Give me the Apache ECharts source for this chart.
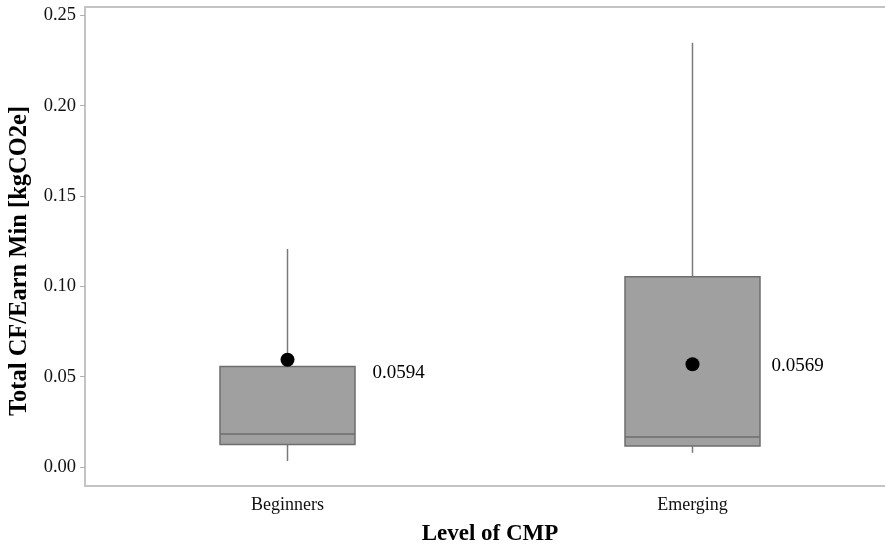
<!DOCTYPE html>
<html>
<head>
<meta charset="utf-8">
<script src="https://cdn.jsdelivr.net/npm/echarts@6/dist/echarts.min.js"></script>
<style>html,body{margin:0;padding:0;background:#fff}#c{width:885px;height:545px}</style>
</head>
<body>
<div id="c"></div>
<script>
var categories = ['Beginners', 'Emerging'];
var whiskerLow = [0.0033, 0.0079];
var q1 = [0.0124, 0.0116];
var median = [0.0183, 0.0166];
var q3 = [0.0557, 0.1053];
var whiskerHigh = [0.1207, 0.2348];
var means = [0.0594, 0.0569];
var yTicks = [0, 0.05, 0.10, 0.15, 0.20, 0.25];

var FONT = '"Liberation Serif", "Times New Roman", serif';
var labelOffsets = [[73, 13], [67, 1.5]];

var boxData = categories.map(function (c, i) {
  return [i, whiskerLow[i], q1[i], median[i], q3[i], whiskerHigh[i]];
});
var meanData = categories.map(function (c, i) {
  return { value: [i, means[i]], label: { offset: labelOffsets[i] } };
});

var chart = echarts.init(document.getElementById('c'), null, { renderer: 'canvas' });
chart.setOption({
  animation: false,
  backgroundColor: '#ffffff',
  grid: {
    left: 85, top: 7, width: 810, height: 479,
    outerBoundsMode: 'none', containLabel: false,
    show: true, borderColor: '#c4c4c4', borderWidth: 2, backgroundColor: 'transparent'
  },
  xAxis: {
    type: 'category',
    data: categories,
    boundaryGap: true,
    axisLine: { onZero: false, lineStyle: { color: '#c4c4c4', width: 2 } },
    axisTick: { alignWithLabel: true, length: 5, lineStyle: { color: '#b0b0b0' } },
    axisLabel: { color: '#111', fontFamily: FONT, fontSize: 18, margin: 10 },
    name: 'Level of CMP',
    nameLocation: 'middle',
    nameGap: 37,
    nameTextStyle: { color: '#000', fontFamily: FONT, fontSize: 23, fontWeight: 'bold' },
    splitLine: { show: false }
  },
  yAxis: {
    type: 'value',
    min: -0.0105,
    max: 0.2546,
    axisLine: { show: true, onZero: false, lineStyle: { color: '#c4c4c4', width: 2 } },
    axisTick: { show: true, length: 5, customValues: yTicks, lineStyle: { color: '#b0b0b0' } },
    axisLabel: {
      customValues: yTicks,
      color: '#111', fontFamily: FONT, fontSize: 18.5, margin: 9,
      formatter: function (v) { return v.toFixed(2); }
    },
    splitLine: { show: false }
  },
  graphic: [{
    type: 'text',
    x: 20, y: 261,
    rotation: Math.PI / 2,
    style: {
      text: 'Total CF/Earn Min [kgCO2e]',
      fill: '#000',
      font: 'bold 24.5px ' + FONT,
      align: 'center',
      verticalAlign: 'middle'
    }
  }],
  series: [
    {
      type: 'custom',
      data: boxData,
      encode: { x: 0, y: [1, 2, 3, 4, 5] },
      renderItem: function (params, api) {
        var x = api.value(0);
        var lo = api.coord([x, api.value(1)]);
        var b1 = api.coord([x, api.value(2)]);
        var md = api.coord([x, api.value(3)]);
        var b3 = api.coord([x, api.value(4)]);
        var hi = api.coord([x, api.value(5)]);
        var w = api.size([1, 0])[0] / 3;
        var cx = lo[0];
        return {
          type: 'group',
          children: [
            { type: 'line', shape: { x1: cx, y1: hi[1], x2: cx, y2: b3[1] }, style: { stroke: '#7a7a7a', lineWidth: 1.5 } },
            { type: 'line', shape: { x1: cx, y1: b1[1], x2: cx, y2: lo[1] }, style: { stroke: '#7a7a7a', lineWidth: 1.5 } },
            { type: 'rect', shape: { x: cx - w / 2, y: b3[1], width: w, height: b1[1] - b3[1] }, style: { fill: '#a0a0a0', stroke: '#6e6e6e', lineWidth: 1.5 } },
            { type: 'line', shape: { x1: cx - w / 2, y1: md[1], x2: cx + w / 2, y2: md[1] }, style: { stroke: '#6e6e6e', lineWidth: 1.5 } }
          ]
        };
      },
      z: 2
    },
    {
      type: 'scatter',
      data: meanData,
      symbol: 'circle',
      symbolSize: 14,
      itemStyle: { color: '#000', opacity: 1 },
      label: {
        show: true,
        position: 'right',
        distance: 5,
        color: '#000',
        fontFamily: FONT,
        fontSize: 19,
        formatter: function (p) { return p.value[1].toFixed(4); }
      },
      z: 3
    }
  ]
});
</script>
</body>
</html>
